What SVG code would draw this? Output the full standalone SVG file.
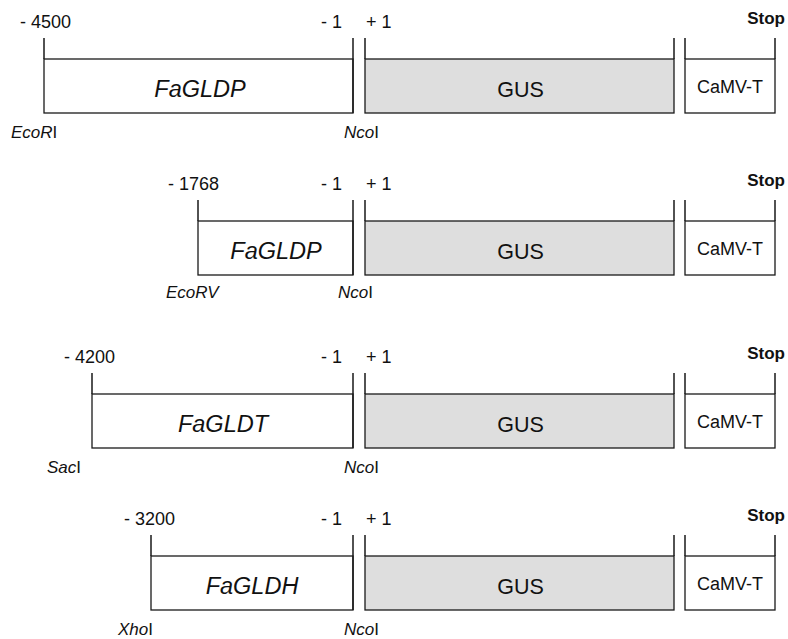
<svg xmlns="http://www.w3.org/2000/svg" width="788" height="639" viewBox="0 0 788 639">
<style>
text{font-family:"Liberation Sans",Arial,sans-serif;fill:#111}
.box{fill:#fff;stroke:#1a1a1a;stroke-width:1.3}
.gus{fill:#dedede;stroke:#1a1a1a;stroke-width:1.3}
.tick{stroke:#1a1a1a;stroke-width:1.5;fill:none}
.num{font-size:18px}
.stop{font-size:17px;font-weight:bold}
.site{font-size:17px}
.it{font-style:italic}
.prom{font-size:23.5px;font-style:italic}
.gt{font-size:21.5px}
.ct{font-size:18px}
</style>
<rect width="788" height="639" fill="#fff"/>
<g id="connectors"></g>

<g id="construct1">
  <g id="promoter1">
    <rect class="box" x="44" y="59" width="309" height="54"/>
    <path class="tick" d="M44 38V59M353 38V113"/>
    <text class="prom" x="200" y="97" text-anchor="middle">FaGLDP</text>
    <text class="num" x="20" y="28">- 4500</text>
    <text class="num" x="342" y="28" text-anchor="end">- 1</text>
    <text class="site" x="11" y="138"><tspan class="it">EcoR</tspan>I</text>
    <text class="site" x="344" y="138"><tspan class="it">Nco</tspan>I</text>
  </g>
  <g id="gus1">
    <rect class="gus" x="365" y="59" width="309" height="54"/>
    <path class="tick" d="M365 38V59M674 38V59"/>
    <text class="gt" x="520.5" y="97" text-anchor="middle">GUS</text>
    <text class="num" x="366" y="28">+ 1</text>
  </g>
  <g id="camv1">
    <rect class="box" x="685" y="59" width="90" height="54"/>
    <path class="tick" d="M685 38V59M775 38V59"/>
    <text class="ct" x="730" y="93" text-anchor="middle">CaMV-T</text>
    <text class="stop" x="785" y="24" text-anchor="end">Stop</text>
  </g>
</g>

<g id="construct2" transform="translate(0,162)">
  <g id="promoter2">
    <rect class="box" x="198" y="59" width="155" height="54"/>
    <path class="tick" d="M198 38V59M353 38V113"/>
    <text class="prom" x="276" y="97" text-anchor="middle">FaGLDP</text>
    <text class="num" x="168" y="28">- 1768</text>
    <text class="num" x="342" y="28" text-anchor="end">- 1</text>
    <text class="site it" x="166" y="136">EcoRV</text>
    <text class="site" x="338" y="136"><tspan class="it">Nco</tspan>I</text>
  </g>
  <g id="gus2">
    <rect class="gus" x="365" y="59" width="309" height="54"/>
    <path class="tick" d="M365 38V59M674 38V59"/>
    <text class="gt" x="520.5" y="97" text-anchor="middle">GUS</text>
    <text class="num" x="366" y="28">+ 1</text>
  </g>
  <g id="camv2">
    <rect class="box" x="685" y="59" width="90" height="54"/>
    <path class="tick" d="M685 38V59M775 38V59"/>
    <text class="ct" x="730" y="93" text-anchor="middle">CaMV-T</text>
    <text class="stop" x="785" y="24" text-anchor="end">Stop</text>
  </g>
</g>

<g id="construct3" transform="translate(0,335)">
  <g id="promoter3">
    <rect class="box" x="92" y="59" width="261" height="54"/>
    <path class="tick" d="M92 38V59M353 38V113"/>
    <text class="prom" x="223" y="97" text-anchor="middle">FaGLDT</text>
    <text class="num" x="64" y="28">- 4200</text>
    <text class="num" x="342" y="28" text-anchor="end">- 1</text>
    <text class="site" x="47" y="138"><tspan class="it">Sac</tspan>I</text>
    <text class="site" x="344" y="138"><tspan class="it">Nco</tspan>I</text>
  </g>
  <g id="gus3">
    <rect class="gus" x="365" y="59" width="309" height="54"/>
    <path class="tick" d="M365 38V59M674 38V59"/>
    <text class="gt" x="520.5" y="97" text-anchor="middle">GUS</text>
    <text class="num" x="366" y="28">+ 1</text>
  </g>
  <g id="camv3">
    <rect class="box" x="685" y="59" width="90" height="54"/>
    <path class="tick" d="M685 38V59M775 38V59"/>
    <text class="ct" x="730" y="93" text-anchor="middle">CaMV-T</text>
    <text class="stop" x="785" y="24" text-anchor="end">Stop</text>
  </g>
</g>

<g id="construct4" transform="translate(0,497)">
  <g id="promoter4">
    <rect class="box" x="151" y="59" width="202" height="54"/>
    <path class="tick" d="M151 38V59M353 38V113"/>
    <text class="prom" x="252" y="97" text-anchor="middle">FaGLDH</text>
    <text class="num" x="124" y="28">- 3200</text>
    <text class="num" x="342" y="28" text-anchor="end">- 1</text>
    <text class="site" x="118" y="138"><tspan class="it">Xho</tspan>I</text>
    <text class="site" x="344" y="138"><tspan class="it">Nco</tspan>I</text>
  </g>
  <g id="gus4">
    <rect class="gus" x="365" y="59" width="309" height="54"/>
    <path class="tick" d="M365 38V59M674 38V59"/>
    <text class="gt" x="520.5" y="97" text-anchor="middle">GUS</text>
    <text class="num" x="366" y="28">+ 1</text>
  </g>
  <g id="camv4">
    <rect class="box" x="685" y="59" width="90" height="54"/>
    <path class="tick" d="M685 38V59M775 38V59"/>
    <text class="ct" x="730" y="93" text-anchor="middle">CaMV-T</text>
    <text class="stop" x="785" y="24" text-anchor="end">Stop</text>
  </g>
</g>
</svg>
